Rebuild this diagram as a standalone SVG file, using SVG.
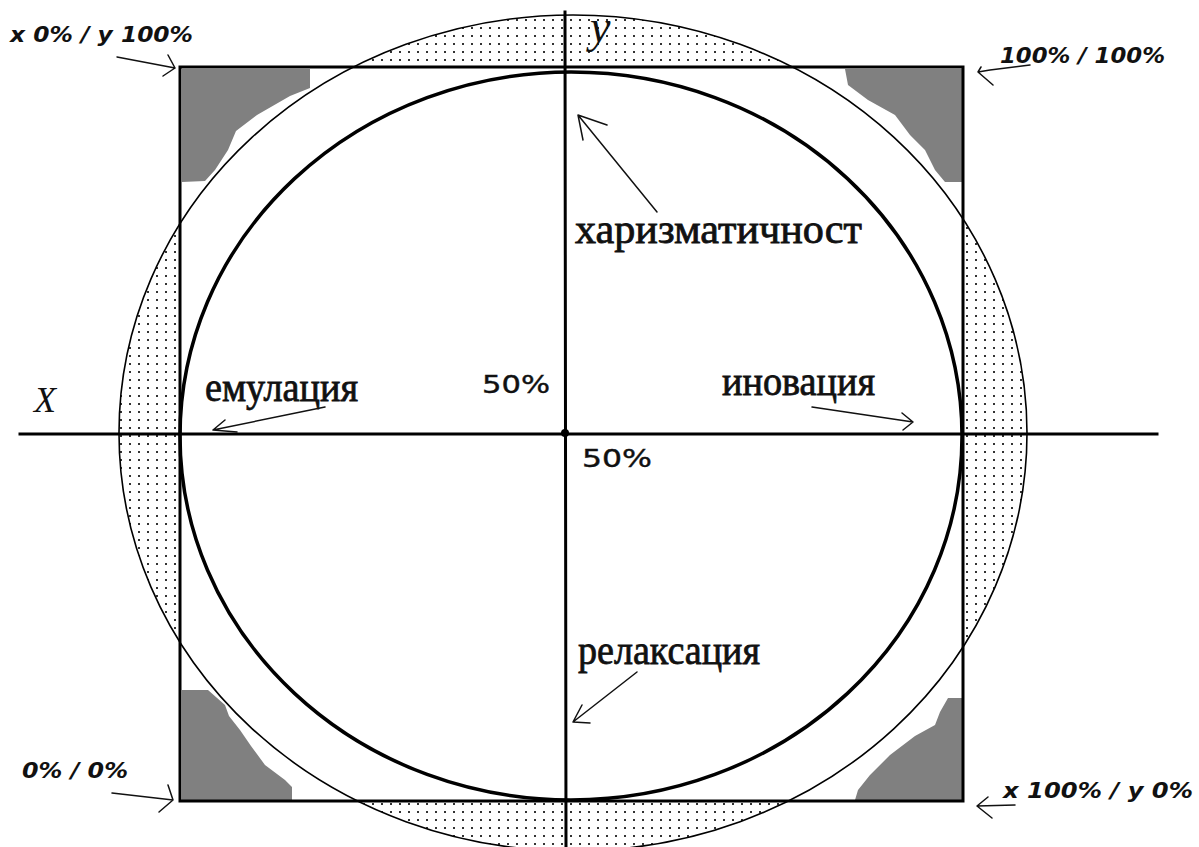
<svg xmlns="http://www.w3.org/2000/svg" width="1199" height="847" viewBox="0 0 1199 847">
<style>
.ln{fill:none;stroke:#000;stroke-linecap:square}
.arr{fill:none;stroke:#111;stroke-width:1.5;stroke-linecap:round;stroke-linejoin:round}
.corner{font-family:"DejaVu Sans",sans-serif;font-style:italic;font-weight:bold;font-size:21px;fill:#111}
.pct{font-family:"DejaVu Sans",sans-serif;font-size:25px;fill:#111;stroke:#111;stroke-width:0.4}
.lbl{font-family:"Liberation Serif",serif;font-size:41px;fill:#111;stroke:#111;stroke-width:0.8}
.axis{font-family:"Liberation Serif",serif;font-style:italic;fill:#111}
</style>
<defs>
<pattern id="dots" x="0" y="0" width="9" height="8" patternUnits="userSpaceOnUse">
<rect x="3" y="3" width="2" height="2" fill="#333"/>
</pattern>
</defs>
<rect width="1199" height="847" fill="#fff"/>
<g id="outer-zone">
<ellipse cx="573" cy="433" rx="454" ry="418" fill="url(#dots)"/>
<rect x="180" y="67" width="783" height="734" fill="#fff"/>
</g>
<g id="corners" fill="#808080">
<path d="M182,69 L310,69 L310,88 L290,96 L257,115 L236,131 L228,150 L215,170 L205,181 L182,182 Z"/>
<path d="M845,69 L962,69 L962,182 L945,182 L935,170 L925,150 L910,135 L895,115 L868,100 L848,85 Z"/>
<path d="M182,690 L208,690 L225,705 L229,716 L240,730 L251,746 L265,765 L285,780 L292,787 L292,800 L182,800 Z"/>
<path d="M962,698 L948,698 L940,712 L935,725 L915,736 L890,755 L870,775 L858,790 L855,800 L962,800 Z"/>
</g>
<g id="outer-ellipse"><ellipse class="ln" cx="573" cy="433" rx="454" ry="418" stroke-width="1.6"/></g>
<g id="inner-ellipse"><ellipse class="ln" cx="571" cy="436" rx="391" ry="364" stroke-width="3.5"/></g>
<g id="square"><rect class="ln" x="180" y="67" width="783" height="734" stroke-width="3"/></g>
<g id="axes">
<line class="ln" x1="565" y1="12" x2="566" y2="847" stroke-width="3"/>
<line class="ln" x1="20" y1="434" x2="1157" y2="434" stroke-width="3"/>
<circle cx="565" cy="433" r="4" fill="#000"/>
</g>
<g id="connectors">
<path class="arr" d="M117,57 L175,68 M168,55 L175,68 L163,76"/>
<path class="arr" d="M1030,65 L990,70 L978,72 M981,67 L978,72 L993,85"/>
<path class="arr" d="M112,793 L173,800 M168,785 L173,800 L159,812"/>
<path class="arr" d="M1015,805 L977,806 M988,797 L977,806 L992,818"/>
<path class="arr" d="M657,212 L578,115 M607,125 L578,115 L583,140"/>
<path class="arr" d="M325,407 L213,430 M225,420 L213,430 L237,432"/>
<path class="arr" d="M812,407 L913,422 M902,413 L913,422 L903,430"/>
<path class="arr" d="M637,672 L573,722 M582,705 L573,722 L590,723"/>
</g>
<g id="label-y"><text class="axis" x="590" y="42" font-size="46">y</text></g>
<g id="label-x"><text class="axis" x="34" y="412" font-size="36">X</text></g>
<g id="label-tl"><text class="corner" x="10" y="42" textLength="183" lengthAdjust="spacingAndGlyphs">x 0% / y 100%</text></g>
<g id="label-tr"><text class="corner" x="1000" y="63" textLength="165" lengthAdjust="spacingAndGlyphs">100% / 100%</text></g>
<g id="label-bl"><text class="corner" x="22" y="778" textLength="106" lengthAdjust="spacingAndGlyphs">0% / 0%</text></g>
<g id="label-br"><text class="corner" x="1003" y="798" textLength="190" lengthAdjust="spacingAndGlyphs">x 100% / y 0%</text></g>
<g id="label-50a"><text class="pct" x="482" y="393" textLength="68" lengthAdjust="spacingAndGlyphs">50%</text></g>
<g id="label-50b"><text class="pct" x="582" y="467" textLength="70" lengthAdjust="spacingAndGlyphs">50%</text></g>
<g id="label-char"><text class="lbl" x="575" y="243" textLength="287" lengthAdjust="spacingAndGlyphs">харизматичност</text></g>
<g id="label-emul"><text class="lbl" x="205" y="401" textLength="153" lengthAdjust="spacingAndGlyphs">емулация</text></g>
<g id="label-inov"><text class="lbl" x="722" y="395" textLength="153" lengthAdjust="spacingAndGlyphs">иновация</text></g>
<g id="label-relax"><text class="lbl" x="578" y="664" textLength="182" lengthAdjust="spacingAndGlyphs">релаксация</text></g>
</svg>
